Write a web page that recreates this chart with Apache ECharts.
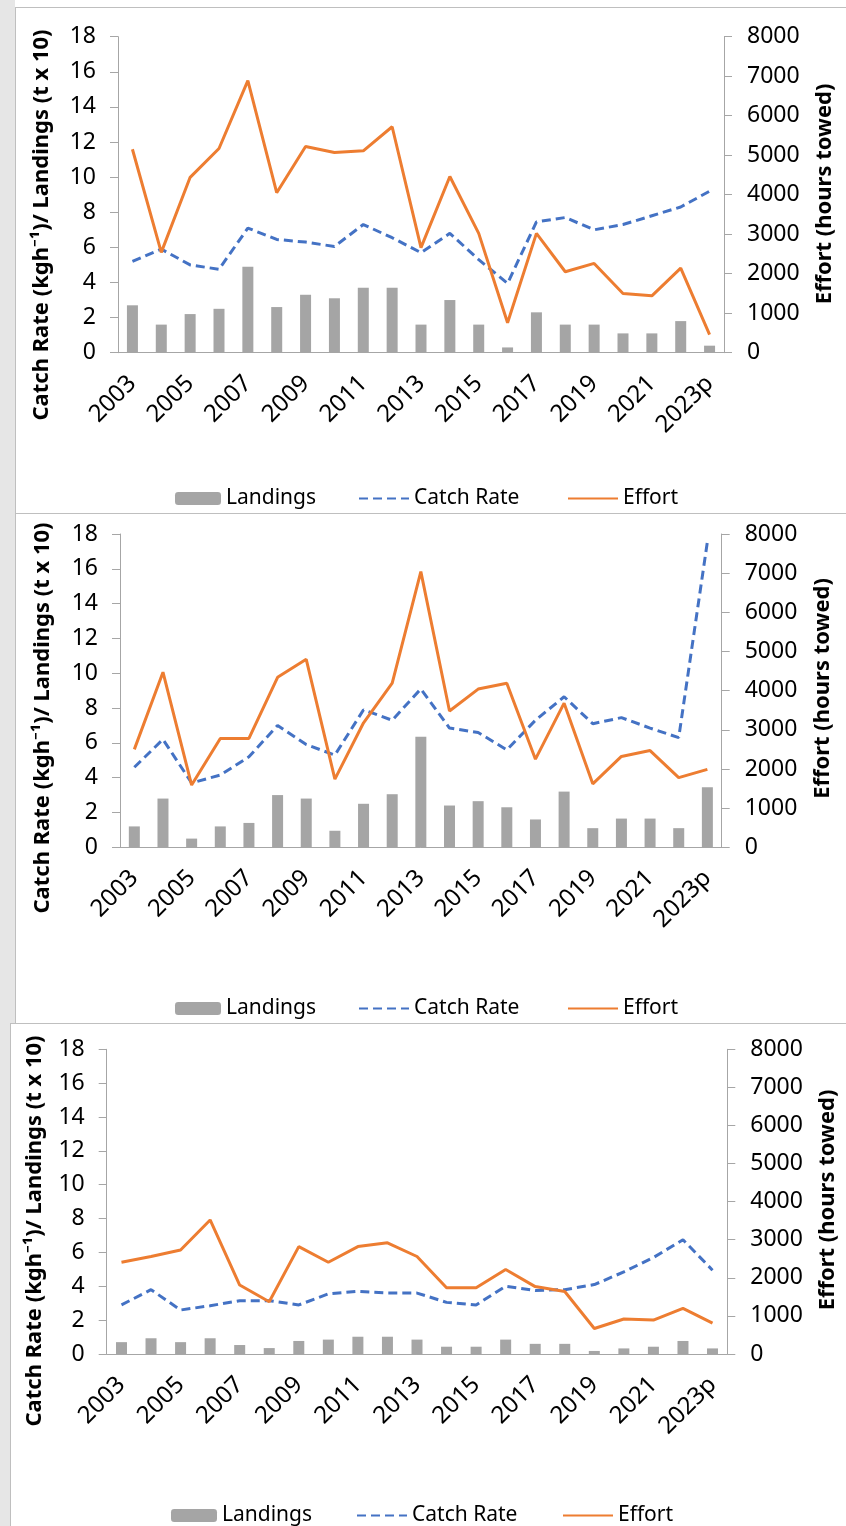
<!DOCTYPE html>
<html>
<head>
<meta charset="utf-8">
<script src="https://cdn.jsdelivr.net/npm/echarts@6/dist/echarts.min.js"></script>
<style>
body{margin:0;width:846px;height:1526px;background:#fff;position:relative;overflow:hidden;}
.strip{position:absolute;left:0;top:0;width:15px;height:1526px;background:#e6e6e6;}
.panel{position:absolute;background:#fff;border-top:1px solid #bfbfbf;border-left:1px solid #bfbfbf;}
#p1{left:15px;top:7px;width:830px;height:505px;}
#p2{left:15px;top:513px;width:830px;height:509px;}
#p3{left:10px;top:1023px;width:835px;height:502px;}
</style>
</head>
<body>
<div class="strip"></div>
<div class="panel" id="p1"></div>
<div class="panel" id="p2"></div>
<div class="panel" id="p3"></div>
<script>
const years = ['2003','2004','2005','2006','2007','2008','2009','2010','2011','2012','2013',
  '2014','2015','2016','2017','2018','2019','2020','2021','2022','2023p'];

// top chart
const landings1 = [2.7, 1.6, 2.2, 2.5, 4.9, 2.6, 3.3, 3.1, 3.7, 3.7, 1.6, 3.0, 1.6, 0.3, 2.3, 1.6, 1.6, 1.1, 1.1, 1.8, 0.4];
const catchRate1 = [5.2, 5.9, 5.0, 4.75, 7.1, 6.45, 6.3, 6.05, 7.3, 6.55, 5.7, 6.8, 5.3, 3.95, 7.45, 7.7, 7.0, 7.3, 7.8, 8.3, 9.2];
const effort1 = [5150, 2540, 4440, 5170, 6890, 4050, 5220, 5070, 5110, 5720, 2660, 4460, 3020, 760, 3020, 2050, 2260, 1500, 1440, 2140, 460];

// middle chart
const landings2 = [1.2, 2.8, 0.5, 1.2, 1.4, 3.0, 2.8, 0.95, 2.5, 3.05, 6.35, 2.4, 2.65, 2.3, 1.6, 3.2, 1.1, 1.65, 1.65, 1.1, 3.45];
const catchRate2 = [4.6, 6.2, 3.7, 4.15, 5.2, 7.0, 5.9, 5.3, 7.9, 7.3, 9.1, 6.85, 6.6, 5.6, 7.3, 8.65, 7.1, 7.45, 6.85, 6.3, 17.55];
const effort2 = [2500, 4470, 1590, 2780, 2780, 4340, 4800, 1740, 3180, 4190, 7040, 3480, 4040, 4190, 2250, 3680, 1620, 2320, 2470, 1780, 1990];

// bottom chart
const landings3 = [0.7, 0.93, 0.7, 0.93, 0.53, 0.35, 0.77, 0.85, 1.02, 1.02, 0.85, 0.43, 0.43, 0.85, 0.6, 0.6, 0.18, 0.33, 0.43, 0.77, 0.33];
const catchRate3 = [2.9, 3.8, 2.6, 2.85, 3.15, 3.15, 2.9, 3.55, 3.7, 3.6, 3.6, 3.05, 2.9, 4.0, 3.75, 3.8, 4.1, 4.85, 5.7, 6.75, 4.95];
const effort3 = [2410, 2560, 2730, 3520, 1810, 1370, 2820, 2410, 2820, 2920, 2560, 1740, 1740, 2220, 1770, 1640, 670, 920, 890, 1200, 810];

const leftTicks = {min: 0, max: 18, interval: 2};
const rightTicks = {min: 0, max: 8000, interval: 1000};

const FONT = '"Noto Sans", sans-serif';
const AXIS_GREY = '#a6a6a6';

function makeOption(landings, catchRate, effort, L) {
  const lbl = {fontSize: 23, color: '#000', fontFamily: FONT};
  const legText = {fontSize: 21, color: '#000', fontFamily: FONT};
  return {
    animation: false,
    textStyle: {fontFamily: FONT, color: '#000'},
    grid: {left: L.gl, top: L.gt, width: L.gw, height: L.gh},
    xAxis: {
      type: 'category', data: years, boundaryGap: true,
      axisLine: {lineStyle: {color: AXIS_GREY, width: 1}},
      axisTick: {interval: 1, length: 7, lineStyle: {color: AXIS_GREY}},
      axisLabel: Object.assign({interval: 1, rotate: 45, margin: 27}, lbl, {fontSize: 24})
    },
    yAxis: [
      Object.assign({
        type: 'value', position: 'left',
        splitLine: {show: false},
        axisLine: {show: true, lineStyle: {color: AXIS_GREY}},
        axisTick: {show: true, length: 8, lineStyle: {color: AXIS_GREY}},
        axisLabel: Object.assign({margin: 22, formatter: v => String(v)}, lbl)
      }, leftTicks),
      Object.assign({
        type: 'value', position: 'right',
        splitLine: {show: false},
        axisLine: {show: true, lineStyle: {color: AXIS_GREY}},
        axisTick: {show: true, length: 8, lineStyle: {color: AXIS_GREY}},
        axisLabel: Object.assign({margin: 23, formatter: v => String(v)}, lbl)
      }, rightTicks)
    ],
    legend: [
      {data: ['Landings'], left: L.lx[0], top: L.ly, itemWidth: 46, itemHeight: 13, textStyle: legText},
      {data: ['Catch Rate'], left: L.lx[1], top: L.ly, itemWidth: 50, itemHeight: 13, textStyle: legText,
        itemStyle: {opacity: 0}},
      {data: ['Effort'], left: L.lx[2], top: L.ly, itemWidth: 50, itemHeight: 13, textStyle: legText,
        itemStyle: {opacity: 0}}
    ],
    graphic: [
      {type: 'text', x: L.t1[0], y: L.t1[1], rotation: Math.PI / 2,
        style: {text: 'Catch Rate (kgh\u207B\u00B9)/ Landings (t x 10)', fontSize: 22, fontWeight: 'bold',
          fontFamily: FONT, fill: '#000', align: 'center', verticalAlign: 'middle'}},
      {type: 'text', x: L.t2[0], y: L.t2[1], rotation: Math.PI / 2,
        style: {text: 'Effort (hours towed)', fontSize: 22, fontWeight: 'bold',
          fontFamily: FONT, fill: '#000', align: 'center', verticalAlign: 'middle'}}
    ],
    series: [
      {name: 'Landings', type: 'bar', data: landings, barWidth: 11,
        itemStyle: {color: '#a5a5a5'}},
      {name: 'Catch Rate', type: 'line', data: catchRate, symbol: 'none',
        lineStyle: {color: '#4472c4', width: 3, type: [9, 5]}, itemStyle: {color: '#4472c4'}},
      {name: 'Effort', type: 'line', yAxisIndex: 1, data: effort, symbol: 'none',
        lineStyle: {color: '#ed7d31', width: 3}, itemStyle: {color: '#ed7d31'}}
    ]
  };
}

//每个面板的布局
const charts = [
  {id: 'p1', d: [landings1, catchRate1, effort1],
    L: {gl: 102, gt: 28.7, gw: 606, gh: 316, lx: [154, 337, 546], ly: 475, t1: [26, 217], t2: [809, 186]}},
  {id: 'p2', d: [landings2, catchRate2, effort2],
    L: {gl: 104, gt: 20, gw: 601.7, gh: 313.3, lx: [154, 337, 546], ly: 479, t1: [27, 204], t2: [807, 174.5]}},
  {id: 'p3', d: [landings3, catchRate3, effort3],
    L: {gl: 95.7, gt: 25.3, gw: 620.6, gh: 304.7, lx: [155, 340, 546], ly: 476, t1: [24, 207], t2: [817, 176]}}
];
charts.forEach(c => {
  const chart = echarts.init(document.getElementById(c.id));
  chart.setOption(makeOption(c.d[0], c.d[1], c.d[2], c.L));
});
</script>
</body>
</html>
